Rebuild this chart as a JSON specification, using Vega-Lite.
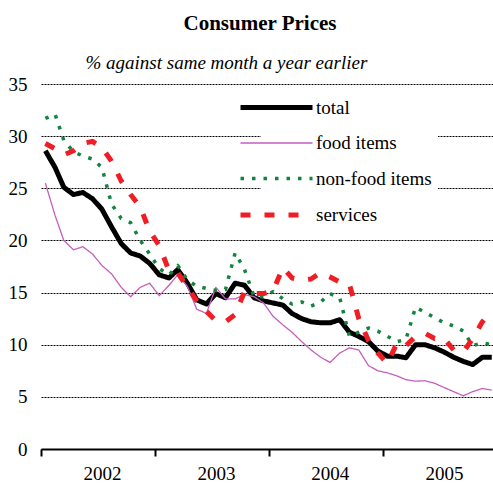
{
  "$schema": "https://vega.github.io/schema/vega-lite/v6.json",
  "width": 452,
  "height": 365,
  "autosize": {"type": "none"},
  "padding": {"left": 41, "top": 84, "right": 0, "bottom": 35},
  "background": "white",
  "title": {"text": "Consumer Prices", "font": "Liberation Serif", "fontSize": 21, "fontWeight": "bold", "color": "black", "anchor": "middle", "dx": -7, "offset": 19},
  "data": {"values": [
    {"date": "2002-01-15", "total": 28.6, "food items": 25.5, "non-food items": 31.7, "services": 29.3},
    {"date": "2002-02-15", "total": 27.0, "food items": 22.4, "non-food items": 32.1, "services": 28.8},
    {"date": "2002-03-15", "total": 25.1, "food items": 20.0, "non-food items": 29.6, "services": 28.2},
    {"date": "2002-04-15", "total": 24.4, "food items": 19.1, "non-food items": 28.5, "services": 28.6},
    {"date": "2002-05-15", "total": 24.6, "food items": 19.4, "non-food items": 28.1, "services": 29.3},
    {"date": "2002-06-15", "total": 24.0, "food items": 18.7, "non-food items": 27.8, "services": 29.5},
    {"date": "2002-07-15", "total": 23.0, "food items": 17.6, "non-food items": 27.0, "services": 28.9},
    {"date": "2002-08-15", "total": 21.3, "food items": 16.8, "non-food items": 23.5, "services": 27.6},
    {"date": "2002-09-15", "total": 19.7, "food items": 15.5, "non-food items": 22.1, "services": 25.7},
    {"date": "2002-10-15", "total": 18.8, "food items": 14.6, "non-food items": 21.7, "services": 24.4},
    {"date": "2002-11-15", "total": 18.5, "food items": 15.5, "non-food items": 20.0, "services": 23.2},
    {"date": "2002-12-15", "total": 17.8, "food items": 15.9, "non-food items": 18.7, "services": 20.9},
    {"date": "2003-01-15", "total": 16.7, "food items": 14.7, "non-food items": 17.3, "services": 19.5},
    {"date": "2003-02-15", "total": 16.4, "food items": 15.7, "non-food items": 16.7, "services": 17.1},
    {"date": "2003-03-15", "total": 17.2, "food items": 16.7, "non-food items": 17.6, "services": 16.9},
    {"date": "2003-04-15", "total": 15.9, "food items": 15.6, "non-food items": 16.2, "services": 15.5},
    {"date": "2003-05-15", "total": 14.3, "food items": 13.4, "non-food items": 15.6, "services": 14.2},
    {"date": "2003-06-15", "total": 13.9, "food items": 13.0, "non-food items": 15.4, "services": 13.2},
    {"date": "2003-07-15", "total": 14.9, "food items": 15.5, "non-food items": 15.2, "services": 12.3},
    {"date": "2003-08-15", "total": 14.5, "food items": 14.4, "non-food items": 15.3, "services": 12.2},
    {"date": "2003-09-15", "total": 15.9, "food items": 14.4, "non-food items": 18.8, "services": 12.9},
    {"date": "2003-10-15", "total": 15.7, "food items": 14.8, "non-food items": 17.2, "services": 15.1},
    {"date": "2003-11-15", "total": 14.5, "food items": 14.6, "non-food items": 14.6, "services": 14.9},
    {"date": "2003-12-15", "total": 14.2, "food items": 14.0, "non-food items": 14.6, "services": 14.9},
    {"date": "2004-01-15", "total": 14.0, "food items": 12.7, "non-food items": 15.1, "services": 15.2},
    {"date": "2004-02-15", "total": 13.8, "food items": 11.9, "non-food items": 14.4, "services": 17.4},
    {"date": "2004-03-15", "total": 13.0, "food items": 11.2, "non-food items": 13.9, "services": 16.4},
    {"date": "2004-04-15", "total": 12.5, "food items": 10.3, "non-food items": 14.1, "services": 16.2},
    {"date": "2004-05-15", "total": 12.2, "food items": 9.5, "non-food items": 13.7, "services": 16.3},
    {"date": "2004-06-15", "total": 12.1, "food items": 8.8, "non-food items": 14.1, "services": 16.9},
    {"date": "2004-07-15", "total": 12.1, "food items": 8.3, "non-food items": 14.9, "services": 16.5},
    {"date": "2004-08-15", "total": 12.4, "food items": 9.2, "non-food items": 14.5, "services": 16.0},
    {"date": "2004-09-15", "total": 11.2, "food items": 9.7, "non-food items": 10.8, "services": 15.8},
    {"date": "2004-10-15", "total": 10.8, "food items": 9.5, "non-food items": 11.2, "services": 12.5},
    {"date": "2004-11-15", "total": 10.3, "food items": 8.0, "non-food items": 11.6, "services": 10.4},
    {"date": "2004-12-15", "total": 9.4, "food items": 7.5, "non-food items": 11.3, "services": 9.2},
    {"date": "2005-01-15", "total": 8.9, "food items": 7.3, "non-food items": 10.8, "services": 8.2},
    {"date": "2005-02-15", "total": 8.9, "food items": 7.0, "non-food items": 10.3, "services": 10.2},
    {"date": "2005-03-15", "total": 8.75, "food items": 6.65, "non-food items": 10.5, "services": 9.9},
    {"date": "2005-04-15", "total": 10.0, "food items": 6.5, "non-food items": 13.6, "services": 10.8},
    {"date": "2005-05-15", "total": 10.0, "food items": 6.55, "non-food items": 13.1, "services": 11.1},
    {"date": "2005-06-15", "total": 9.7, "food items": 6.3, "non-food items": 12.6, "services": 10.6},
    {"date": "2005-07-15", "total": 9.3, "food items": 5.9, "non-food items": 12.1, "services": 10.6},
    {"date": "2005-08-15", "total": 8.8, "food items": 5.5, "non-food items": 11.8, "services": 9.5},
    {"date": "2005-09-15", "total": 8.4, "food items": 5.1, "non-food items": 11.3, "services": 9.3},
    {"date": "2005-10-15", "total": 8.1, "food items": 5.5, "non-food items": 9.9, "services": 10.6},
    {"date": "2005-11-15", "total": 8.8, "food items": 5.8, "non-food items": 10.2, "services": 12.2},
    {"date": "2005-12-15", "total": 8.8, "food items": 5.65, "non-food items": 10.0, "services": 13.3}
  ]},
  "transform": [{"fold": ["total", "food items", "non-food items", "services"], "as": ["series", "value"]}],
  "mark": {"type": "line", "strokeCap": "butt", "strokeJoin": "round"},
  "encoding": {
    "x": {
      "field": "date", "type": "temporal",
      "scale": {"type": "utc", "domain": [{"year": 2002, "month": 1, "date": 1, "utc": true}, {"year": 2005, "month": 12, "date": 19, "utc": true}]},
      "axis": {
        "values": [{"year": 2002, "month": 1, "date": 1, "utc": true}, {"year": 2003, "month": 1, "date": 1, "utc": true}, {"year": 2004, "month": 1, "date": 1, "utc": true}, {"year": 2005, "month": 1, "date": 1, "utc": true}],
        "labelExpr": "utcFormat(datum.value, '%Y')",
        "title": null, "grid": false,
        "domainColor": "black", "domainWidth": 2,
        "tickColor": "black", "tickWidth": 2, "tickSize": 7,
        "labelOffset": 61, "labelFlush": false, "labelOverlap": false,
        "labelFont": "Liberation Serif", "labelFontSize": 19, "labelColor": "black", "labelPadding": 8
      }
    },
    "y": {
      "field": "value", "type": "quantitative",
      "scale": {"domain": [0, 35], "nice": false},
      "axis": {
        "values": [0, 5, 10, 15, 20, 25, 30, 35],
        "grid": true, "gridColor": "black", "gridDash": [2, 1], "gridWidth": 1, "gridOpacity": 1,
        "domain": false, "ticks": false,
        "labelFont": "Liberation Serif", "labelFontSize": 19, "labelColor": "black", "labelPadding": 14,
        "title": "% against same month a year earlier",
        "titleAngle": 0, "titleFont": "Liberation Serif", "titleFontSize": 19, "titleFontStyle": "italic", "titleFontWeight": "normal", "titleColor": "black",
        "titleAlign": "left", "titleBaseline": "alphabetic", "titleX": 44, "titleY": -16
      }
    },
    "color": {
      "field": "series", "type": "nominal",
      "scale": {"domain": ["total", "food items", "non-food items", "services"], "range": ["#000000", "#c55fbd", "#13843f", "#ef1d24"]},
      "legend": {"title": null, "orient": "none", "legendX": 220, "legendY": 8, "symbolType": "M-6,0H6", "symbolSize": 144, "symbolOffset": 0, "padding": 6, "fillColor": "white", "labelFont": "Liberation Serif", "labelFontSize": 19, "labelColor": "black", "labelOffset": 30, "labelLimit": 300, "rowPadding": 15.5}
    },
    "strokeDash": {
      "field": "series", "type": "nominal",
      "scale": {"domain": ["total", "food items", "non-food items", "services"], "range": [[1, 0], [1, 0], [3.5, 8], [10, 14]]},
      "legend": {"title": null, "orient": "none", "legendX": 220, "legendY": 8, "symbolType": "M-6,0H6", "symbolSize": 144, "symbolOffset": 0, "padding": 6, "fillColor": "white", "labelFont": "Liberation Serif", "labelFontSize": 19, "labelColor": "black", "labelOffset": 30, "labelLimit": 300, "rowPadding": 15.5}
    },
    "strokeWidth": {
      "field": "series", "type": "nominal",
      "scale": {"type": "ordinal", "domain": ["total", "food items", "non-food items", "services"], "range": [5, 1.3, 3.5, 5]},
      "legend": {"title": null, "orient": "none", "legendX": 220, "legendY": 8, "symbolType": "M-6,0H6", "symbolSize": 144, "symbolOffset": 0, "padding": 6, "fillColor": "white", "labelFont": "Liberation Serif", "labelFontSize": 19, "labelColor": "black", "labelOffset": 30, "labelLimit": 300, "rowPadding": 15.5}
    }
  },
  "config": {"view": {"stroke": null}}
}
